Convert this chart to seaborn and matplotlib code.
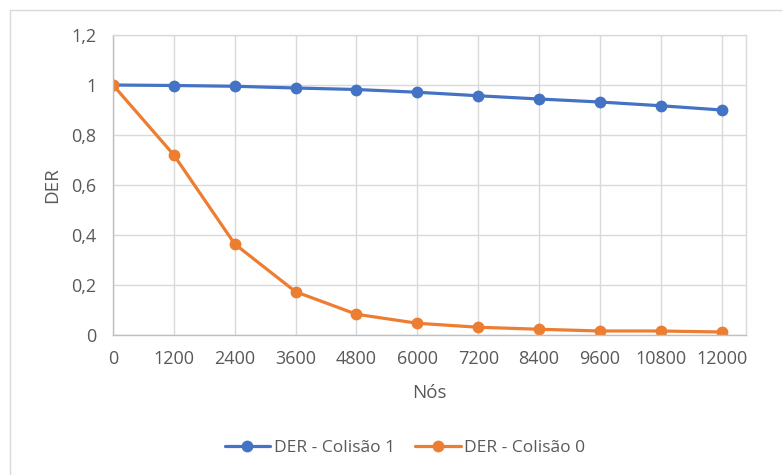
import matplotlib
matplotlib.use("Agg")
import matplotlib.pyplot as plt
from matplotlib.patches import Rectangle
from matplotlib.ticker import FuncFormatter
import seaborn as sns
import pandas as pd

# Number of nodes (categorical x axis)
nodes = ["0", "1200", "2400", "3600", "4800", "6000", "7200", "8400", "9600", "10800", "12000"]
# Data extraction rate with collisions enabled / disabled
der_colisao_1 = [1.0, 0.998, 0.995, 0.988, 0.982, 0.971, 0.957, 0.944, 0.932, 0.917, 0.900]
der_colisao_0 = [1.0, 0.720, 0.364, 0.173, 0.083, 0.047, 0.031, 0.023, 0.016, 0.016, 0.012]
series_names = ["DER - Colisão 1", "DER - Colisão 0"]
colors = ["#4472C4", "#ED7D31"]

df = pd.DataFrame({
    "Nós": nodes * 2,
    "DER": der_colisao_1 + der_colisao_0,
    "Série": [series_names[0]] * len(nodes) + [series_names[1]] * len(nodes),
})

sns.set_theme(style="white")
plt.rcParams["font.family"] = ["Open Sans", "DejaVu Sans"]
text_color = "#595959"
grid_color = "#D9D9D9"

W, H = 782, 475
fig = plt.figure(figsize=(W / 100, H / 100), dpi=100)
ax = fig.add_axes([113 / W, (H - 335) / H, (746 - 113) / W, 300 / H])

sns.lineplot(
    data=df, x="Nós", y="DER", hue="Série", palette=colors,
    sort=False, estimator=None, marker="o", markersize=8.5,
    markeredgewidth=0, linewidth=2.3, ax=ax, legend=False,
)

ax.set_ylim(0, 1.2)
ax.set_yticks([0, 0.2, 0.4, 0.6, 0.8, 1.0, 1.2])
ax.yaxis.set_major_formatter(FuncFormatter(lambda v, p: f"{v:g}".replace(".", ",")))
ax.set_xlim(0, 10.4)

ax.grid(True, color=grid_color, linewidth=1.0)
ax.set_axisbelow(True)
for side in ["top", "right"]:
    ax.spines[side].set_color(grid_color)
    ax.spines[side].set_linewidth(1.0)
for side in ["left", "bottom"]:
    ax.spines[side].set_color("#BFBFBF")
    ax.spines[side].set_linewidth(1.0)

ax.tick_params(axis="both", length=0, labelsize=13, labelcolor=text_color)
ax.tick_params(axis="x", pad=11)
ax.tick_params(axis="y", pad=12)
ax.set_xlabel("Nós", fontsize=13.5, color=text_color, labelpad=11)
ax.set_ylabel("DER", fontsize=13.5, color=text_color, labelpad=7)

handles = [
    plt.Line2D([], [], color=c, marker="o", markersize=8.5, markeredgewidth=0, linewidth=2.3)
    for c in colors
]
fig.legend(handles, series_names, loc="center", bbox_to_anchor=(0.518, 27 / H),
           ncol=2, frameon=False, fontsize=12.5, labelcolor=text_color,
           handlelength=2.6, handletextpad=0.2, columnspacing=1.2)

# chart area border
fig.patches.append(Rectangle((10 / W, -0.1), 1.0, (H - 10) / H + 0.1, fill=False,
                             edgecolor=grid_color, linewidth=1.0,
                             transform=fig.transFigure, figure=fig))

fig.savefig("out.png", dpi=100)
